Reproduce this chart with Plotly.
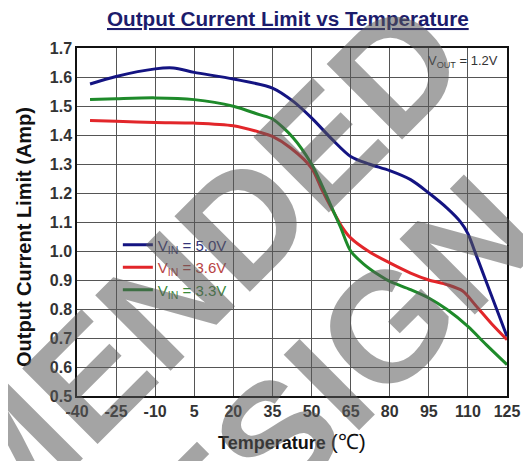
import plotly.graph_objects as go

# ---- data ----
t_50 = [-35, -25, -10, -3, 5, 20, 35, 43, 50, 58, 65, 72, 80, 88, 95, 102, 107, 110, 113, 117, 121, 125]
i_50 = [1.576, 1.602, 1.628, 1.631, 1.616, 1.593, 1.562, 1.516, 1.459, 1.384, 1.326, 1.300, 1.277,
        1.246, 1.200, 1.148, 1.102, 1.060, 0.990, 0.895, 0.800, 0.705]

t_36 = [-35, -25, -10, 5, 20, 30, 35, 42, 50, 54, 58, 62, 65, 72, 80, 88, 95, 102, 108, 113, 119, 125]
i_36 = [1.450, 1.447, 1.443, 1.441, 1.432, 1.410, 1.395, 1.355, 1.286, 1.211, 1.142, 1.079, 1.045,
        0.998, 0.959, 0.924, 0.900, 0.884, 0.862, 0.812, 0.750, 0.694]

t_33 = [-35, -25, -10, 5, 20, 30, 35, 43, 50, 53, 57, 61, 65, 70, 76, 80, 88, 95, 102, 110, 117, 125]
i_33 = [1.522, 1.525, 1.528, 1.522, 1.499, 1.470, 1.455, 1.390, 1.300, 1.246, 1.165, 1.085, 1.000,
        0.955, 0.916, 0.895, 0.867, 0.838, 0.798, 0.740, 0.677, 0.608]

x_ticks = [-40, -25, -10, 5, 20, 35, 50, 65, 80, 95, 110, 125]
y_ticks = [0.5, 0.6, 0.7, 0.8, 0.9, 1.0, 1.1, 1.2, 1.3, 1.4, 1.5, 1.6, 1.7]

series = [
    ("5.0V", t_50, i_50, "#141482", "#34347a"),
    ("3.6V", t_36, i_36, "#e2262a", "#b84444"),
    ("3.3V", t_33, i_33, "#1e8a2a", "#3a8a3a"),
]

FONT = "Liberation Sans, Arial, sans-serif"

fig = go.Figure()
for name, xs, ys, col, tcol in series:
    fig.add_trace(go.Scatter(
        x=xs, y=ys, mode="lines",
        line=dict(color=col, width=3, shape="spline", smoothing=0.8),
        name=f'<span style="color:{tcol}">V<sub>IN</sub> = {name}</span>',
    ))

# the page body adds an 8px offset; margins compensate for it
fig.update_layout(
    width=531, height=461,
    margin=dict(l=69, r=32, t=40, b=73),
    paper_bgcolor="white", plot_bgcolor="white",
    font=dict(family=FONT, color="#333333"),
    showlegend=True,
    legend=dict(x=0.095, y=0.481, xanchor="left", yanchor="top",
                bgcolor="rgba(0,0,0,0)", font=dict(size=15, family=FONT)),
)

fig.update_xaxes(
    range=[-40, 125], tickvals=x_ticks, ticktext=[str(v) for v in x_ticks],
    showgrid=True, gridcolor="#555555", gridwidth=1,
    showline=True, linecolor="#111111", linewidth=1.5, mirror=True,
    zeroline=False, ticks="",
    tickfont=dict(size=16, family=FONT, color="#333333", weight="bold"),
)
fig.update_yaxes(
    range=[0.5, 1.7], tickvals=y_ticks, ticktext=[f"{v:.1f}" for v in y_ticks],
    showgrid=True, gridcolor="#555555", gridwidth=1,
    showline=True, linecolor="#111111", linewidth=1.5, mirror=True,
    zeroline=False, ticks="",
    tickfont=dict(size=16, family=FONT, color="#333333", weight="bold"),
)

# titles
fig.add_annotation(text="<u>Output Current Limit vs Temperature</u>", xref="paper", yref="paper",
                   x=0.49, y=1.0, yshift=30, xanchor="center", yanchor="middle", showarrow=False,
                   font=dict(size=20.7, family=FONT, color="#1c1c6c", weight="bold"))
fig.add_annotation(text="Output Current Limit (Amp)", xref="paper", yref="paper",
                   x=0, xshift=-53, y=0.457, xanchor="center", yanchor="middle",
                   textangle=-90, showarrow=False,
                   font=dict(size=20, family=FONT, color="#111111", weight="bold"))
fig.add_annotation(text='<b>Temperature</b> <span style="font-size:21px">(℃)</span>',
                   xref="paper", yref="paper",
                   x=0.5, y=0, yshift=-45, xanchor="center", yanchor="middle", showarrow=False,
                   font=dict(size=18, family=FONT, color="#111111"))
fig.add_annotation(text="V<sub>OUT</sub> = 1.2V", xref="paper", yref="paper",
                   x=0.984, y=0.96, xanchor="right", yanchor="middle", showarrow=False,
                   font=dict(size=13, family=FONT, color="#333333"))

# watermark (positions given in page pixels, converted to plot-area fractions)
def px(X):
    return (X - 77) / 430

def py(Y):
    return (396 - Y) / 348

wm_font = dict(size=155, family=FONT, color="rgba(90,90,90,0.55)", weight="bold")
fig.add_annotation(text="NOT RECOMMENDED", xref="paper", yref="paper",
                   x=px(-137), y=py(602), textangle=-45,
                   xanchor="center", yanchor="middle", showarrow=False, font=wm_font)
fig.add_annotation(text="FOR NEW DESIGN", xref="paper", yref="paper",
                   x=px(24), y=py(689), textangle=-45,
                   xanchor="center", yanchor="middle", showarrow=False, font=wm_font)

fig.write_html("out.html")
